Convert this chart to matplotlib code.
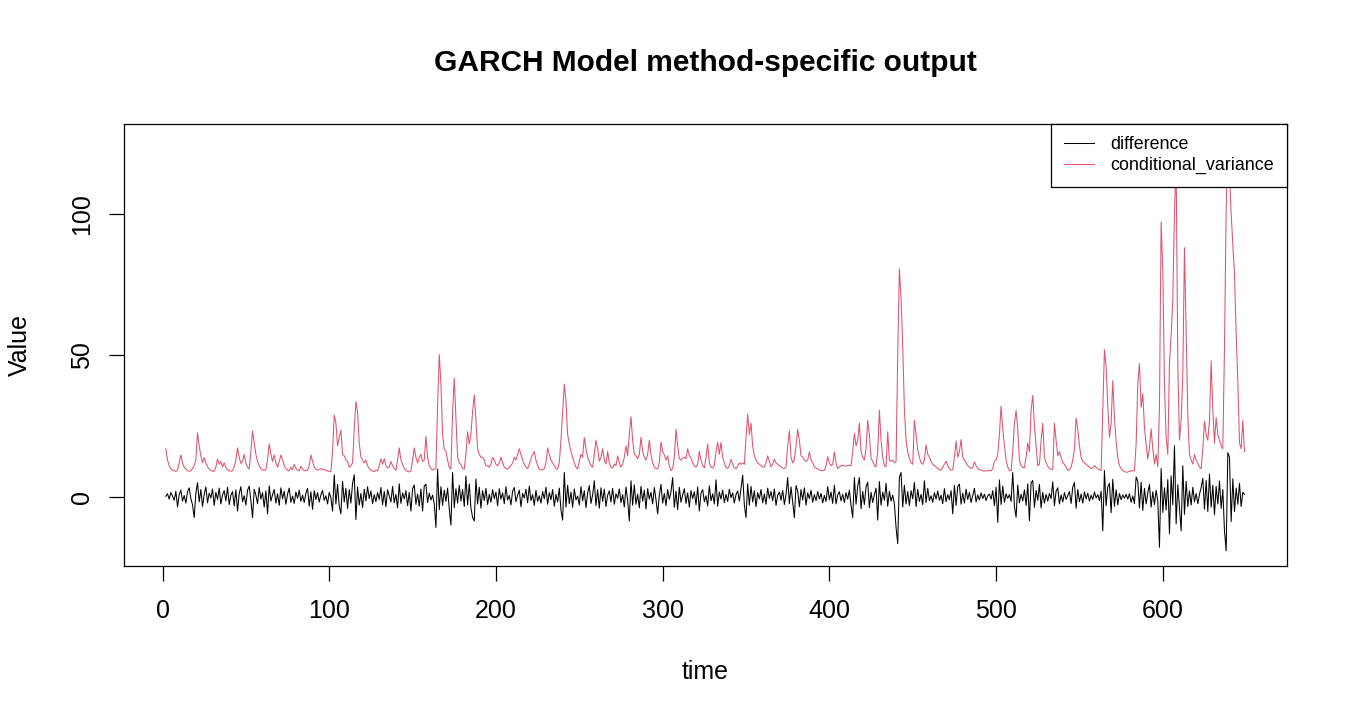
import numpy as np
import matplotlib
matplotlib.use("Agg")
import matplotlib.pyplot as plt

plt.rcParams["font.family"] = ["Liberation Sans", "DejaVu Sans"]

# GARCH output (index 2 .. 649)
conditional_variance = [
    17, 13, 11, 10, 9.5, 9.2, 9, 9.4, 12, 14.8,
    12, 10.5, 9.8, 9.3, 9, 9.2, 10, 11, 13, 22.6,
    18, 14.5, 12, 13.9, 12, 10.6, 9.8, 9.3, 9.1, 9,
    10.5, 13.4, 11.5, 12.5, 10.6, 12, 10.4, 9.6, 9.2, 9,
    9.3, 10.5, 13, 17.3, 14, 11.8, 12.5, 15, 12, 10.5,
    9.8, 16, 23.3, 19, 15, 12.5, 11, 10, 9.5, 9.3,
    9.6, 13, 18.7, 15, 12.5, 14.8, 12, 10.5, 12.5, 14.8,
    13, 11, 10, 9.4, 9.2, 10.5, 9.6, 11.5, 10.2, 9.4,
    9.2, 10.8, 9.8, 9.3, 9.2, 9.4, 11, 14.8, 12.5, 10.5,
    9.8, 9.4, 9.7, 10, 9.5, 9.8, 9.3, 9.1, 9, 8.9,
    16, 28.9, 26, 18, 21, 23.5, 15, 14.5, 13, 12.5,
    10.5, 11, 12, 24, 33.6, 30, 19, 14, 13, 12,
    13, 11, 10, 9.4, 9.1, 8.9, 9.5, 9.2, 11, 13.5,
    11.5, 13.5, 11, 10.2, 10.5, 12.5, 11, 10, 9.4, 13,
    17.3, 13, 11.5, 10, 9.4, 9, 8.8, 9.2, 13, 17.3,
    14, 12, 14, 15, 12.5, 13, 21.4, 14, 11, 10,
    9.5, 9.8, 10, 32, 50.2, 40, 22, 16.8, 16, 13,
    10.5, 9.8, 30, 41.9, 28, 14, 12, 11.5, 10, 9.8,
    15, 23, 18.7, 22, 30, 36, 27, 17, 15, 14,
    14, 13, 11, 11, 10.5, 11.5, 14, 13, 11.5, 11,
    12, 14, 12, 10.5, 10, 9.8, 10.5, 11, 12, 14,
    13, 15, 17, 15, 13, 11.5, 10.5, 10, 11.5, 13.5,
    15, 16, 13, 11, 9.8, 9.5, 9.6, 10, 12, 17.3,
    15, 13, 12, 11, 10, 9.8, 12, 20, 30, 39.8,
    34, 22, 18.7, 16, 14, 12, 10.5, 9.8, 12.5, 15,
    14, 21, 17, 14, 12.5, 11, 10.5, 15, 20, 17,
    12.6, 14, 17, 13, 11.6, 16, 12, 10.5, 10.2, 11.6,
    11, 14.5, 12, 10.5, 11.5, 14, 18, 14.5, 22, 28.3,
    20, 15, 14.5, 13.5, 15, 21, 16, 14, 13, 15,
    20, 15, 12, 10.5, 10, 9.9, 12, 19.3, 16, 14.8,
    13, 14.5, 11, 9.3, 10, 14, 23.9, 18, 13.5, 13,
    13.7, 14, 13.5, 17, 14.5, 13.7, 12, 11, 10.5, 11.5,
    16, 13, 11, 10.2, 14, 18.7, 12, 10.5, 10.2, 11,
    16, 19.3, 15, 19.2, 14, 12, 10.4, 10, 11, 13.3,
    11.5, 10.2, 10, 10.8, 12, 11.5, 12, 11.5, 21, 29.2,
    22, 26, 18, 14.5, 13, 12, 11.5, 11, 10.6, 10.5,
    12, 14.5, 12.5, 10.6, 11.5, 13.3, 12, 11.5, 11, 10.6,
    10.2, 10, 10.5, 18, 23.3, 14, 12, 13, 18, 23.8,
    20, 14.5, 14, 13, 12.5, 13, 15.8, 13, 12, 10.6,
    10.2, 9.8, 9.5, 9.3, 9.2, 9.4, 11, 14.2, 12, 11,
    11.5, 15.8, 12, 10, 10.5, 11, 11.2, 11, 10.8, 11,
    11.2, 11, 16, 22.4, 18, 20, 26, 16, 14, 13,
    17, 27, 22, 13.5, 12.6, 11, 10.6, 16, 30.6, 20,
    14, 11, 10.6, 23, 13, 12.6, 13, 12, 12.5, 50,
    80.4, 70, 53.6, 31, 20, 16, 13.5, 12, 11.5, 27,
    22, 16.5, 14, 12, 11.5, 13, 18.4, 15, 14, 12.6,
    11.5, 11, 10.6, 10, 9.6, 9.4, 10.5, 11.5, 12.6, 11,
    10, 9.4, 9.6, 14, 19.7, 14, 16, 20.2, 14, 13,
    12, 11, 10.5, 10, 10.4, 12.4, 11, 10, 9.6, 9.4,
    9.2, 9.1, 9.2, 9.2, 9.3, 9.2, 10, 12.6, 13, 15,
    22, 32, 24, 18, 13, 10.5, 9.3, 9.2, 16, 26,
    30.5, 24, 13, 11, 10.4, 10.3, 14, 19, 16, 30.5,
    35.9, 25, 18, 11, 11.5, 20, 26, 14, 12, 10.8,
    10, 9.8, 9.7, 26, 20, 14.5, 16, 14, 12, 11.5,
    10.5, 9.3, 9.6, 10.5, 13, 17, 27.8, 24, 18, 14,
    12.5, 12, 11.5, 11, 10.5, 10, 10.2, 11, 10.4, 10,
    9.5, 9.3, 30, 52, 46, 32, 21, 26, 41, 28,
    19.7, 14, 11, 10, 9.3, 9, 8.7, 8.8, 9, 9.2,
    9.2, 9.2, 18.7, 40, 47, 31.6, 36.4, 24.5, 18.6, 13.4,
    17.4, 24, 17, 11.6, 15, 10.7, 31.6, 97, 80, 40,
    21, 15, 47, 57, 70, 100, 118, 47, 20, 27,
    43, 88, 58, 29, 15, 13, 11.6, 15, 13, 12,
    10.5, 10, 17, 26.7, 22, 20, 27, 48, 31, 19,
    28, 22, 20, 18, 17, 52.8, 101, 126, 115, 100,
    89, 79, 57.6, 41, 19, 17, 27, 16,
]

difference = [
    0.2, 1.1, -0.8, 1.5, 0.3, -1.2, 2.0, -3.5, 0.8, 2.4,
    -1.5, 0.5, -2.2, 1.8, 3.2, -0.6, -2.8, -7.3, 1.2, 5.0,
    -1.8, 2.6, -3.4, 0.9, 3.5, -2.1, 1.3, -0.4, 2.8, -3.0,
    1.6, -0.9, 3.1, -2.5, 0.7, 2.2, -1.4, 3.4, -2.7, 0.5,
    1.9, -3.2, 2.5, -5.0, 1.1, 3.6, -1.7, 0.4, -2.9, 2.3,
    3.8, -1.2, -7.3, 2.7, 0.6, -2.4, 3.3, -0.8, 1.5, -3.6,
    2.1, -6.0, 3.9, -1.5, 0.8, 2.6, -2.2, 1.1, -3.0, 3.2,
    -0.7, 2.0, -2.6, 0.9, 3.1, -1.9, 0.3, -2.3, 1.7, -0.5,
    2.4, -1.6, 0.6, -2.0, 1.3, 3.0, -3.3, 1.8, -4.4, 2.2,
    -0.9, 1.5, -1.8, 0.7, 2.3, -1.2, 0.4, -2.5, 1.6, -0.3,
    -5.0, 7.8, -2.5, 4.4, -3.2, -6.0, 5.5, -1.8, 3.0, -4.1,
    2.6, -2.2, 4.8, 7.8, -8.0, 3.5, -2.9, 1.2, -3.8, 2.7,
    -1.4, 3.6, -0.6, 2.1, -2.4, 0.8, -1.7, 1.5, -0.9, 3.3,
    -2.8, 1.9, -3.5, 2.5, 0.4, -1.8, 3.7, -2.1, 0.9, -3.9,
    4.6, -2.3, 1.4, -0.7, 2.2, -3.1, 1.6, -5.0, 2.9, 4.2,
    -2.6, 1.0, -3.3, 2.8, -5.0, 3.9, 4.5, -2.0, 1.3, -1.1,
    0.6, -2.4, -10.8, 9.8, -4.5, 3.6, -3.0, 2.4, -1.6, 3.1,
    -4.2, -10.0, 8.6, -3.8, 2.9, -2.2, 4.1, -1.5, 2.6, -3.4,
    7.4, -2.8, 4.6, -3.9, -7.3, -8.5, 6.3, -2.5, 3.4, -4.0,
    2.2, -1.3, 3.0, -2.7, 0.9, -1.9, 2.5, -0.6, 1.7, -3.2,
    2.9, -0.8, 1.4, -2.4, 3.6, -1.1, 0.5, -2.8, 2.0, 3.3,
    -1.7, 0.6, 2.4, -3.5, 1.2, -0.4, 2.7, -2.1, 3.8, -1.3,
    0.8, -3.0, 2.3, -1.6, 0.4, -2.2, 1.9, -0.7, 3.4, -2.6,
    1.5, -1.0, 2.6, -3.3, 0.9, -1.8, 3.1, -4.6, -8.2, 8.6,
    -3.6, 4.1, -2.4, 1.7, -3.7, 2.8, -1.1, 0.3, -2.9, 3.6,
    -1.4, 2.2, -3.8, 1.3, 4.0, -2.3, 0.7, 5.7, -3.1, 2.5,
    -4.0, 3.2, -1.6, 2.7, -3.4, 0.6, 2.1, -1.8, 3.0, -2.6,
    1.1, -0.5, 2.8, -2.0, 0.8, -3.6, 3.5, -1.2, -8.5, 5.7,
    -3.0, 4.2, -2.6, 1.0, -3.9, 3.7, -1.5, 2.4, -4.3, 2.9,
    -0.8, 1.6, -2.5, 3.3, -1.0, -6.0, 0.5, 4.4, -2.2, 1.2,
    -3.1, 2.6, -0.9, 1.8, 6.8, -3.7, 2.0, -4.5, 3.4, -1.9,
    0.7, 2.9, -2.3, 1.4, -3.6, 2.2, -0.6, 1.8, -2.8, 3.5,
    -5.0, 1.3, 2.6, -1.7, 0.4, -3.2, 3.9, -1.4, 1.1, -2.5,
    6.0, -3.3, 1.7, -0.8, 2.4, -2.0, 0.9, -1.6, 2.7, -0.3,
    1.4, -2.2, 0.8, 2.1, -1.5, 3.0, 7.7, -2.9, -7.3, 4.6,
    -3.0, 3.7, -1.8, 2.2, -3.4, 1.5, -0.7, 2.6, -2.1, 1.0,
    -2.6, 3.1, -0.5, 1.9, -1.4, 2.8, -3.0, 0.6, 1.7, -1.2,
    2.3, -2.7, 0.9, 6.8, -2.4, 3.5, -1.8, -7.3, 4.0, 2.1,
    -3.5, 2.6, -1.1, 3.2, -2.9, 1.4, -0.6, 2.3, -1.9, 0.8,
    -1.3, 1.9, -0.7, 1.2, -2.1, 0.5, -1.6, 3.6, -1.0, 1.7,
    -2.3, 4.1, -2.5, 0.7, 1.8, -1.4, 0.9, -2.0, 1.5, -0.8,
    2.4, -3.0, -7.3, 6.8, -2.6, 3.9, 6.8, -4.2, 1.9, -2.7,
    3.6, 5.2, -3.8, 1.6, -2.0, 0.8, 3.1, -8.2, 5.4, -2.9,
    1.7, -1.2, 4.8, -3.3, 2.0, -1.5, 0.6, -2.4, -10.8, -16.5,
    7.0, 8.6, -3.6, 4.1, -2.5, 1.9, -3.1, 2.2, -0.7, 5.1,
    -3.4, 2.7, -1.6, 0.9, -2.8, 5.7, -2.0, 3.0, -1.3, 0.4,
    -1.9, 1.5, -0.8, 2.1, -1.2, 0.6, -2.4, 2.9, -1.7, 0.8,
    -1.0, 2.2, -6.0, 4.1, -3.0, 3.6, 4.5, -2.6, 1.3, -2.2,
    2.7, -0.9, 1.6, -2.0, 0.5, 3.0, -1.8, 0.7, -1.1, 1.4,
    -0.6, 0.9, -1.3, 0.3, 1.0, -0.8, 2.2, -3.1, 3.4, -9.0,
    6.0, -2.7, 3.8, -1.9, 1.1, -0.5, 0.8, -1.6, 8.6, -3.4,
    -7.2, 4.2, -2.1, 0.9, -1.4, 2.5, -3.0, 4.6, -8.4, 5.0,
    5.8, -3.7, 2.3, -1.2, 4.4, -3.9, 1.6, -2.2, 0.9, -1.5,
    1.2, -0.6, 5.3, -3.1, 2.0, 3.2, -2.5, 0.7, -1.8, 1.5,
    -0.9, 0.4, 1.9, -2.3, 3.5, 5.1, -4.0, 2.6, -1.7, 1.0,
    -2.2, 1.8, -0.7, 1.3, -1.5, 0.6, -0.9, 1.7, -0.4, 0.8,
    -1.3, 2.0, -12.0, 9.3, -3.2, 3.5, 4.8, -5.6, 6.2, -3.3,
    2.5, -2.8, 1.2, -1.0, 0.7, -0.5, 0.9, -0.8, 1.1, -1.9,
    0.3, -2.4, 7.0, 5.5, -3.9, 5.2, -4.8, 3.0, -2.5, 1.4,
    4.4, -3.6, 1.8, -2.7, 2.3, -1.6, -17.8, 10.0, -5.5, 3.2,
    -4.6, 6.1, -13.0, 7.4, -2.8, 18.0, -9.5, 4.3, -3.6, -12.0,
    11.0, -6.2, 5.5, -3.4, 2.1, -2.9, 3.4, -1.7, 1.2, -2.4,
    0.9, 3.3, 6.5, -4.4, 5.8, -5.2, 8.0, -3.6, 4.1, -6.3,
    3.7, -2.5, 5.6, -4.1, 2.6, -12.0, -19.0, 15.6, 14.0, -8.7,
    6.4, -5.2, 3.1, -2.6, 4.8, -3.4, 1.6, 0.9,
]

x_ticks = [0, 100, 200, 300, 400, 500, 600]
y_ticks = [0, 50, 100]

t_diff = np.arange(2, 2 + len(difference))
t_var = np.arange(2, 2 + len(conditional_variance))

W, H = 1350, 720
fig = plt.figure(figsize=(W / 100, H / 100), dpi=100)
ax = fig.add_axes([123.5 / W, 1 - 566 / H, (1286.5 - 123.5) / W, (566 - 123.5) / H])

ax.plot(t_diff, difference, color="black", lw=0.75, label="difference")
ax.plot(t_var, conditional_variance, color="#DF536B", lw=0.75, label="conditional_variance")

ax.set_xlim(-23.4, 674.2)
ax.set_ylim(-24.4, 131.8)
ax.set_xticks(x_ticks)
ax.set_yticks(y_ticks)
ax.tick_params(axis="both", direction="out", length=11, width=0.9, labelsize=18, color="black")
ax.tick_params(axis="x", pad=13)
ax.tick_params(axis="y", pad=10, labelrotation=90)
for lab in ax.get_yticklabels():
    lab.set_verticalalignment("center")
for sp in ax.spines.values():
    sp.set_linewidth(0.9)
    sp.set_color("black")

leg = ax.legend(loc="upper right", bbox_to_anchor=(1, 1), borderaxespad=0,
                fontsize=12.9, handlelength=1.7, handletextpad=0.9,
                borderpad=0.7, labelspacing=0.22, fancybox=False,
                framealpha=1, edgecolor="black")
leg.get_frame().set_linewidth(0.9)
leg.set_zorder(5)

fig.text(705 / W, 1 - 63 / H, "GARCH Model method-specific output", ha="center",
         va="center", fontsize=21.5, fontweight="bold")
fig.text(705 / W, 1 - 672 / H, "time", ha="center", va="center", fontsize=18)
fig.text(20 / W, 1 - 345 / H, "Value", ha="center", va="center", fontsize=18,
         rotation=90)

fig.savefig("out.png", dpi=100)
